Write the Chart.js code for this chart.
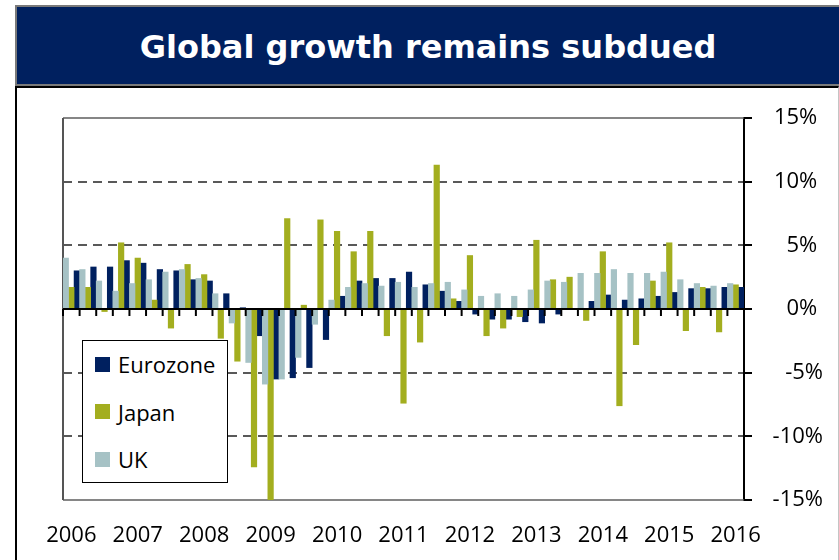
<!DOCTYPE html>
<html>
<head>
<meta charset="utf-8">
<title>Global growth remains subdued</title>
<script src="https://cdn.jsdelivr.net/npm/chart.js@4.4.1/dist/chart.umd.min.js"></script>
<style>
  body { margin: 0; width: 839px; height: 560px; overflow: hidden; background: #fff; position: relative; font-family: "Open Sans", "Noto Sans", sans-serif; }
  .banner { position: absolute; left: 15px; top: 5px; width: 822px; height: 77px; background: #00205f; border: 2px solid #7a7a7a; color: #fff; font: bold 32px "DejaVu Sans", Verdana, sans-serif; text-align: center; line-height: 80px; }
  .frame { position: absolute; left: 15px; top: 86px; width: 821px; height: 500px; border-left: 2px solid #000; border-top: 2px solid #000; border-right: 1px solid #c4c4c4; }
  #chart { position: absolute; left: 0; top: 0; }
  .legend { position: absolute; left: 82px; top: 340px; width: 144px; height: 141px; background: #fff; border: 1.5px solid #000; }
  .legend .item { position: absolute; left: 12px; height: 30px; display: flex; align-items: center; font-size: 22px; color: #000; }
  .legend .swatch { width: 15px; height: 15px; margin-right: 8px; }
</style>
</head>
<body>
<div class="banner">Global growth remains subdued</div>
<div class="frame"></div>
<canvas id="chart" width="839" height="560"></canvas>
<div class="legend" id="legend"></div>

<script>
    // quarterly growth, % (2006 Q1 - 2016 Q1)
    var quarters = [];
    for (var yr = 2006; yr <= 2016; yr++) {
        for (var q = 1; q <= 4; q++) {
            if (yr === 2016 && q > 1) break;
            quarters.push(yr + ' Q' + q);
        }
    }
    var years = ['2006', '2007', '2008', '2009', '2010', '2011', '2012', '2013', '2014', '2015', '2016'];

    var eurozone = [3.0, 3.3, 3.3, 3.8, 3.6, 3.1, 3.0, 2.3, 2.2, 1.2, 0.1, -2.1, -5.5, -5.4, -4.6, -2.4,
        1.0, 2.2, 2.4, 2.4, 2.9, 1.9, 1.4, 0.6, -0.4, -0.8, -0.8, -1.0, -1.1, -0.4, 0.0, 0.6,
        1.1, 0.7, 0.8, 1.0, 1.3, 1.6, 1.6, 1.7, 1.7];
    var japan = [1.7, 1.7, -0.2, 5.2, 4.0, 0.7, -1.5, 3.5, 2.7, -2.3, -4.1, -12.4, -15.0, 7.1, 0.3, 7.0,
        6.1, 4.5, 6.1, -2.1, -7.4, -2.6, 11.3, 0.8, 4.2, -2.1, -1.5, -0.6, 5.4, 2.3, 2.5, -0.9,
        4.5, -7.6, -2.8, 2.2, 5.2, -1.7, 1.7, -1.8, 1.9];
    var uk = [4.0, 3.1, 2.2, 1.4, 2.0, 2.3, 2.9, 3.1, 2.4, 1.2, -1.1, -4.2, -5.9, -5.5, -3.8, -1.2,
        0.7, 1.7, 2.0, 1.8, 2.1, 1.7, 2.0, 2.1, 1.5, 1.0, 1.2, 1.0, 1.5, 2.2, 2.1, 2.8,
        2.8, 3.1, 2.8, 2.8, 2.9, 2.3, 2.0, 1.8, 2.0];

    var seriesNames = ['Eurozone', 'Japan', 'UK'];
    var seriesColors = ['#00205f', '#a3ae1f', '#a6c2c5'];
    var yMin = -15, yMax = 15, yStep = 5;

    // legend box
    var legendEl = document.getElementById('legend');
    seriesNames.forEach(function (name, i) {
        var item = document.createElement('div');
        item.className = 'item';
        item.style.top = (8 + i * 47.5) + 'px';
        item.innerHTML = '<span class="swatch" style="background:' + seriesColors[i] + '"></span>' + name;
        legendEl.appendChild(item);
    });

    // solid frame lines at the top, bottom and left of the plot
    var plotFrame = {
        id: 'plotFrame',
        beforeDatasetsDraw: function (chart) {
            var ctx = chart.ctx, a = chart.chartArea, y = chart.scales.y;
            ctx.save();
            ctx.strokeStyle = '#5e5e5e';
            ctx.lineWidth = 1.5;
            [yMax, yMin].forEach(function (v) {
                var py = y.getPixelForValue(v);
                ctx.beginPath();
                ctx.moveTo(a.left, py);
                ctx.lineTo(a.right, py);
                ctx.stroke();
            });
            ctx.strokeStyle = '#555';
            ctx.lineWidth = 2;
            ctx.beginPath();
            ctx.moveTo(a.left, a.top);
            ctx.lineTo(a.left, a.bottom);
            ctx.stroke();
            ctx.restore();
        },
        // zero line with quarter tick marks
        afterDatasetsDraw: function (chart) {
            var ctx = chart.ctx, a = chart.chartArea, x = chart.scales.x, y = chart.scales.y;
            var y0 = y.getPixelForValue(0);
            var w = x.getPixelForValue(1) - x.getPixelForValue(0);
            ctx.save();
            ctx.strokeStyle = '#000';
            ctx.lineWidth = 2;
            ctx.beginPath();
            ctx.moveTo(a.left, y0);
            ctx.lineTo(a.right, y0);
            ctx.stroke();
            for (var i = 0; i <= quarters.length; i++) {
                var bx = x.getPixelForValue(0) - w / 2 + i * w;
                ctx.beginPath();
                ctx.moveTo(bx, y0);
                ctx.lineTo(bx, y0 + 7);
                ctx.stroke();
            }
            ctx.restore();
        }
    };

    var ctx = document.getElementById('chart').getContext('2d');
    var chart = new Chart(ctx, {
        type: 'bar',
        data: {
            labels: quarters,
            datasets: [
                {label: seriesNames[2], data: uk, backgroundColor: seriesColors[2]},
                {label: seriesNames[1], data: japan, backgroundColor: seriesColors[1]},
                {label: seriesNames[0], data: eurozone, backgroundColor: seriesColors[0]}
            ]
        },
        options: {
            responsive: false,
            animation: false,
            layout: {padding: {left: 63, top: 118, right: 16, bottom: 0}},
            datasets: {bar: {categoryPercentage: 1.0, barPercentage: 1.0}},
            plugins: {legend: {display: false}, tooltip: {enabled: false}},
            scales: {
                x: {
                    grid: {display: false, drawTicks: false},
                    border: {display: false},
                    ticks: {
                        autoSkip: false, maxRotation: 0, minRotation: 0, padding: 23,
                        color: '#000',
                        font: {family: '"Open Sans", "Noto Sans", sans-serif', size: 22},
                        callback: function (v, i) { return i % 4 === 0 ? years[i / 4] : ''; }
                    },
                    afterFit: function (s) { s.height = 60; }
                },
                y: {
                    position: 'right',
                    min: yMin, max: yMax,
                    grid: {
                        color: function (c) {
                            var v = c.tick ? c.tick.value : null;
                            return (v === 0 || v === yMax || v === yMin) ? 'rgba(0,0,0,0)' : '#595959';
                        },
                        lineWidth: 2,
                        tickLength: 8, tickColor: '#000', tickWidth: 2
                    },
                    border: {display: true, color: '#000', width: 2, dash: [9, 6]},
                    ticks: {
                        stepSize: yStep, padding: 9, crossAlign: 'far',
                        color: '#000',
                        font: {family: '"Open Sans", "Noto Sans", sans-serif', size: 22},
                        callback: function (v) { return v < 0 ? v + '%' : v + '%\u2008'; }
                    },
                    afterFit: function (s) { s.width = 79; }
                }
            }
        },
        plugins: [plotFrame]
    });
</script>
</body>
</html>
